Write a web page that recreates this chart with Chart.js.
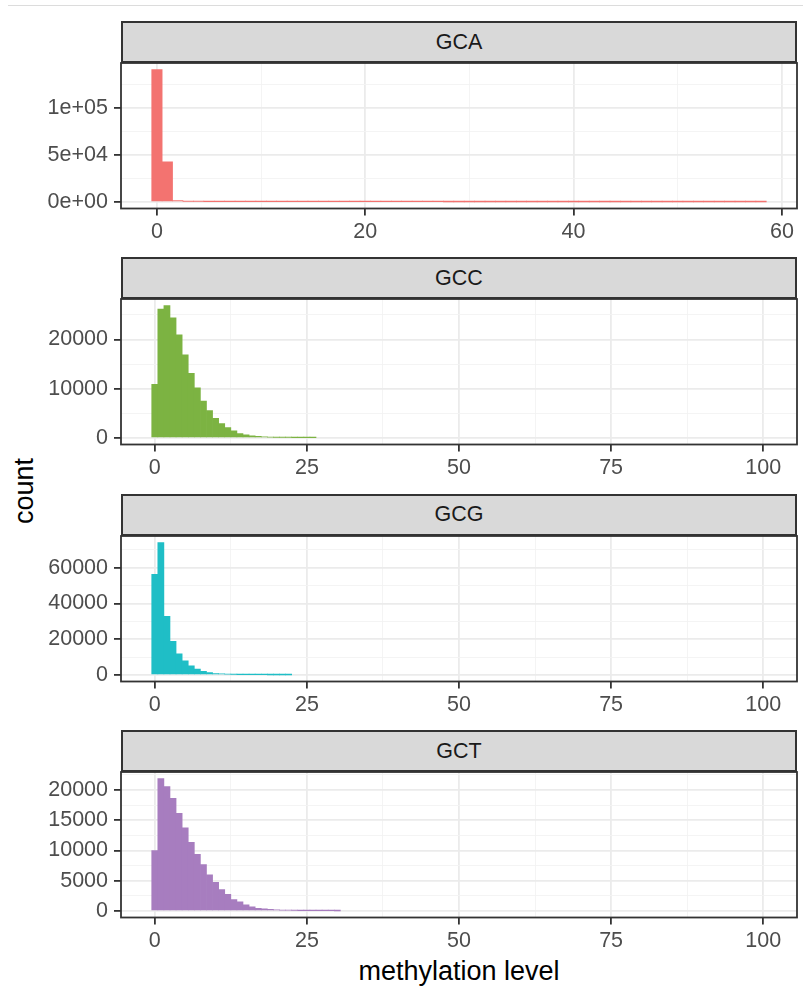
<!DOCTYPE html>
<html lang="en">
<head>
<meta charset="UTF-8">
<title>Methylation level histograms</title>
<script src="https://cdn.jsdelivr.net/npm/chart.js"></script>
<style>
  body { margin: 0; background: #fff; font-family: "Liberation Sans", Arial, sans-serif; }
  #fig { position: relative; width: 803px; height: 997px; overflow: hidden; }
  .topline { position: absolute; left: 8px; top: 5px; width: 795px; border-top: 1px solid #dcdcdc; }
  .strip { position: absolute; left: 121px; width: 676px; height: 42px; box-sizing: border-box;
           background: #d9d9d9; border: 2px solid #333; color: #1a1a1a; font-size: 21.5px;
           display: flex; align-items: center; justify-content: center; }
  .panel { position: absolute; left: 0; }
  #ylab { position: absolute; left: -26.4px; top: 476px; width: 100px; height: 30px; line-height: 30px;
          text-align: center; font-size: 27px; color: #000; transform: rotate(-90deg); }
  #xlab { position: absolute; left: 121px; width: 676px; top: 956px; height: 30px; line-height: 30px;
          text-align: center; font-size: 27px; color: #000; }
</style>
</head>
<body>
<div id="fig">
  <div class="topline"></div>
  <div id="ylab">count</div>
  <div id="xlab">methylation level</div>
</div>

<script>
// facet names and bar colours
const facets = ['GCA', 'GCC', 'GCG', 'GCT'];
const colors = ['#f37370', '#7cb342', '#1fbec6', '#a77dbf'];

// counts per methylation level bin (bin i is centred on level i, width 1)
const gcaCounts = [140400, 42550, 1500, 600, 420, 350, 300, 270, 250, 230,
  210, 200, 190, 180, 170, 160, 150, 145, 140, 135,
  130, 125, 120, 115, 110, 105, 100, 98, 95, 92,
  90, 88, 85, 82, 80, 78, 75, 72, 70, 68,
  66, 64, 62, 60, 58, 56, 54, 52, 50, 48,
  46, 44, 42, 40, 38, 36, 34, 32, 30];

const gccCounts = [10900, 26200, 26900, 24400, 20950, 16900, 13150, 10170, 7460, 5560,
  4000, 2920, 2100, 1420, 900, 600, 420, 300, 220, 160,
  120, 90, 70, 55, 45, 38, 32, 0, 0, 0,
  0, 0, 0, 0, 0, 0, 0, 0, 0, 0,
  0, 0, 0, 0, 0, 0, 0, 0, 0, 0,
  0, 0, 0, 0, 0, 0, 0, 0, 0, 0,
  0, 0, 0, 0, 0, 0, 0, 0, 0, 0,
  0, 0, 0, 0, 0, 0, 0, 0, 0, 0,
  0, 0, 0, 0, 0, 0, 0, 0, 0, 0,
  0, 0, 0, 0, 0, 0, 0, 0, 0, 0, 0];

const gcgCounts = [56250, 74060, 32800, 18750, 11810, 7875, 5060, 3190, 2060, 1310,
  800, 560, 380, 260, 180, 130, 95, 70, 52, 40,
  32, 26, 21, 0, 0, 0, 0, 0, 0, 0,
  0, 0, 0, 0, 0, 0, 0, 0, 0, 0,
  0, 0, 0, 0, 0, 0, 0, 0, 0, 0,
  0, 0, 0, 0, 0, 0, 0, 0, 0, 0,
  0, 0, 0, 0, 0, 0, 0, 0, 0, 0,
  0, 0, 0, 0, 0, 0, 0, 0, 0, 0,
  0, 0, 0, 0, 0, 0, 0, 0, 0, 0,
  0, 0, 0, 0, 0, 0, 0, 0, 0, 0, 0];

const gctCounts = [9970, 21870, 20550, 18620, 16140, 13720, 11350, 9370, 7660, 5950,
  4740, 3530, 2750, 1870, 1490, 990, 660, 440, 330, 250,
  180, 130, 100, 75, 55, 42, 33, 27, 22, 18,
  15, 0, 0, 0, 0, 0, 0, 0, 0, 0,
  0, 0, 0, 0, 0, 0, 0, 0, 0, 0,
  0, 0, 0, 0, 0, 0, 0, 0, 0, 0,
  0, 0, 0, 0, 0, 0, 0, 0, 0, 0,
  0, 0, 0, 0, 0, 0, 0, 0, 0, 0,
  0, 0, 0, 0, 0, 0, 0, 0, 0, 0,
  0, 0, 0, 0, 0, 0, 0, 0, 0, 0, 0];

// axis breaks and their labels
const gcaXTicks = [0, 20, 40, 60];
const levelXTicks = [0, 25, 50, 75, 100];
const gcaYTicks = [0, 50000, 100000];
const gcaYLabels = ['0e+00', '5e+04', '1e+05'];
const gccYTicks = [0, 10000, 20000];
const gcgYTicks = [0, 20000, 40000, 60000];
const gctYTicks = [0, 5000, 10000, 15000, 20000];

const panels = [
  { counts: gcaCounts, xTicks: gcaXTicks, yTicks: gcaYTicks, yLabels: gcaYLabels },
  { counts: gccCounts, xTicks: levelXTicks, yTicks: gccYTicks },
  { counts: gcgCounts, xTicks: levelXTicks, yTicks: gcgYTicks },
  { counts: gctCounts, xTicks: levelXTicks, yTicks: gctYTicks }
];

const FONT = { family: '"Liberation Sans", Arial, sans-serif', size: 21.5 };

// major breaks plus the minor ones halfway between them
function withMinor(major, lo, hi) {
  const step = major[1] - major[0];
  const out = [];
  for (let v = major[0] - step / 2; v <= hi; v += step / 2) {
    if (v >= lo) out.push(v);
  }
  return out;
}

const panelBorder = {
  id: 'panelBorder',
  afterDraw(chart) {
    const { ctx, chartArea: a } = chart;
    ctx.save();
    ctx.strokeStyle = '#333333';
    ctx.lineWidth = 1.8;
    ctx.strokeRect(a.left, a.top, a.width, a.height);
    ctx.restore();
  }
};

const fig = document.getElementById('fig');
const stripH = 42, plotH = 145.5, pitch = 236.45, padTop = 4, canvasH = 195;

panels.forEach((p, i) => {
  const top = 21 + pitch * i;

  const strip = document.createElement('div');
  strip.className = 'strip';
  strip.style.top = top + 'px';
  strip.textContent = facets[i];
  fig.appendChild(strip);

  const canvas = document.createElement('canvas');
  canvas.className = 'panel';
  canvas.width = 803;
  canvas.height = canvasH;
  canvas.style.top = (top + stripH - padTop) + 'px';
  fig.appendChild(canvas);

  // bins span -0.5 .. n-0.5, plus ggplot's 5% expansion on both axes
  const n = p.counts.length;
  const yMax = Math.max(...p.counts);
  const xLo = -0.5 - 0.05 * n, xHi = n - 0.5 + 0.05 * n;
  const yLo = -0.05 * yMax, yHi = 1.05 * yMax;

  const xAll = withMinor(p.xTicks, xLo, xHi);
  const yAll = withMinor(p.yTicks, yLo, yHi);
  const isMajor = (arr, c) => !!(c && c.tick) && arr.some(m => Math.abs(m - c.tick.value) < 1e-9);

  const gridOpts = arr => ({
    offset: false,
    color: c => isMajor(arr, c) ? '#ebebeb' : '#f3f3f3',
    lineWidth: c => isMajor(arr, c) ? 1.8 : 0.9,
    tickColor: c => isMajor(arr, c) ? '#333333' : 'rgba(0,0,0,0)',
    tickWidth: 1.8,
    tickLength: 7
  });
  const majorLabel = (arr, v) => arr.findIndex(m => Math.abs(m - v) < 1e-9);

  // empty bins are not drawn at all
  const points = p.counts.map((c, k) => ({ x: k, y: c })).filter(d => d.y > 0);

  new Chart(canvas, {
    type: 'bar',
    data: {
      datasets: [{
        data: points,
        backgroundColor: colors[i],
        borderWidth: 0,
        barPercentage: 1,
        categoryPercentage: 1
      }]
    },
    options: {
      responsive: false,
      animation: false,
      events: [],
      layout: { padding: { top: padTop, right: 6, left: 0, bottom: 0 } },
      plugins: { legend: { display: false }, tooltip: { enabled: false } },
      scales: {
        x: {
          type: 'linear',
          offset: false,
          min: xLo,
          max: xHi,
          afterBuildTicks: s => { s.ticks = xAll.map(v => ({ value: v })); },
          afterFit: s => { s.height = canvasH - padTop - plotH; s.paddingLeft = 0; s.paddingRight = 0; },
          border: { display: false },
          grid: gridOpts(p.xTicks),
          ticks: {
            autoSkip: false, maxRotation: 0, minRotation: 0, padding: 4,
            color: '#4d4d4d', font: FONT,
            callback: v => majorLabel(p.xTicks, v) >= 0 ? String(v) : ''
          }
        },
        y: {
          type: 'linear',
          min: yLo,
          max: yHi,
          afterBuildTicks: s => { s.ticks = yAll.map(v => ({ value: v })); },
          afterFit: s => { s.width = 121; s.paddingTop = 0; s.paddingBottom = 0; },
          border: { display: false },
          grid: gridOpts(p.yTicks),
          ticks: {
            autoSkip: false, padding: 6,
            color: '#4d4d4d', font: FONT,
            callback: v => {
              const k = majorLabel(p.yTicks, v);
              if (k < 0) return '';
              return p.yLabels ? p.yLabels[k] : String(v);
            }
          }
        }
      }
    },
    plugins: [panelBorder]
  });
});
</script>
</body>
</html>
